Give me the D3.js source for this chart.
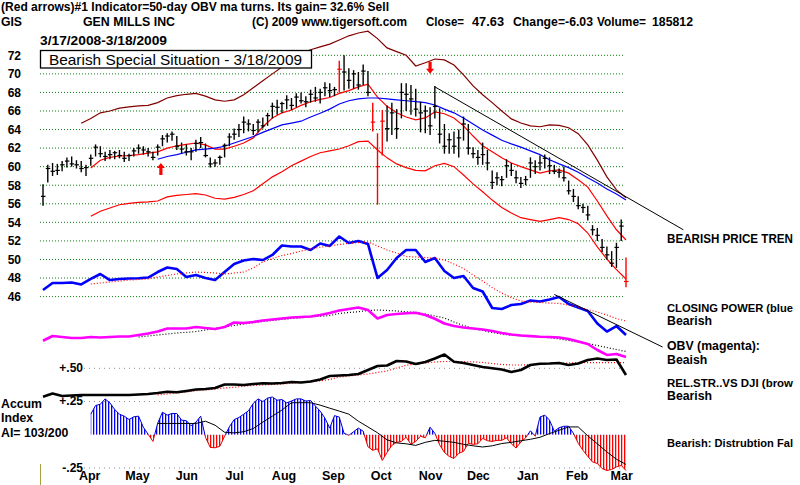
<!DOCTYPE html>
<html>
<head>
<meta charset="utf-8">
<script src="https://cdn.jsdelivr.net/npm/d3@7"></script>
<style>
  body { margin: 0; background: #fff; }
  text { font-family: "Liberation Sans", Arial, sans-serif; font-weight: bold; }
</style>
</head>
<body>
<div id="chart"></div>
<script>
// ---- data ----
const parse = d3.timeParse("%Y-%m-%d");
const startDate = parse("2008-03-17"), endDate = parse("2009-03-18");
const barStep = 3, lineStep = 6;   // calendar days between samples

const barHigh = [58.1,60.2,60.4,60.3,60.6,61.0,61.1,60.7,60.6,60.2, 61.3,62.4,62.2,61.6,61.8,61.7,61.8,61.6,61.4,62.0,
  62.4,62.2,62.0,61.6,62.4,63.4,63.6,63.8,63.3,62.6, 62.4,62.0,62.9,63.2,62.5,61.0,60.8,61.2,62.5,63.6,
  64.1,64.6,65.4,65.1,64.6,65.1,65.3,65.8,66.9,67.2, 67.0,67.7,67.4,67.9,68.0,67.6,68.3,68.6,68.4,69.1,
  69.0,68.6,71.4,72.0,70.6,70.4,70.2,71.0,70.3,66.9, 63.6,66.1,66.6,66.9,66.2,69.0,69.0,68.8,68.4,67.0,
  66.6,66.4,68.7,66.3,64.6,63.6,63.8,64.0,65.4,64.6, 62.1,61.8,62.6,61.8,59.6,59.4,59.0,60.8,60.4,59.6,
  58.9,59.0,61.0,60.7,61.2,61.3,61.0,60.2,59.8,60.0, 58.5,57.6,56.8,56.0,55.8,53.7,53.4,52.2,51.4,50.9,
  51.8,54.3,50.2];
const barLow = [55.8,58.3,59.0,59.1,59.5,59.9,60.0,59.8,59.4,59.0, 60.1,61.1,61.0,60.6,60.8,60.8,60.9,60.5,60.6,61.1,
  61.4,61.3,61.1,60.7,61.2,62.2,62.6,62.8,61.8,61.4, 61.2,60.7,61.6,62.0,61.0,59.9,60.0,60.2,61.0,62.2,
  62.9,63.2,63.6,63.8,63.4,63.7,64.1,64.4,65.2,65.6, 65.8,66.2,66.1,66.4,66.8,66.4,66.9,67.0,66.8,67.6,
  67.5,67.6,68.0,68.2,68.4,68.4,68.3,68.8,67.6,63.8, 55.9,61.2,62.7,63.4,63.0,65.2,66.0,65.6,65.4,63.7,
  63.6,63.4,65.2,62.5,61.4,61.4,61.4,61.0,62.8,61.3, 60.9,60.2,60.2,59.6,57.6,58.0,57.9,58.8,59.0,58.2,
  57.7,58.0,58.8,59.2,59.6,59.8,59.2,59.2,58.8,58.4, 57.0,56.2,55.4,55.0,54.2,52.6,52.0,50.8,50.0,49.2,
  49.1,52.0,47.0];
const barClose = [56.8,59.8,59.5,59.6,60.2,60.6,60.3,60.2,59.8,59.9, 60.9,62.1,61.4,61.1,61.3,61.5,61.2,60.9,61.2,61.7,
  62.0,61.8,61.6,61.0,62.1,63.0,63.3,63.5,62.2,61.9, 61.6,61.6,62.5,62.6,61.2,60.3,60.4,61.0,62.3,63.2,
  63.5,64.0,64.8,64.6,63.9,64.8,64.4,65.5,66.5,66.4, 66.8,67.2,66.6,67.5,67.1,67.0,67.8,67.4,68.0,68.5,
  68.2,68.3,70.5,70.2,69.3,70.0,68.8,70.3,68.0,64.8, 60.0,64.9,64.1,65.8,64.1,68.0,67.8,67.3,66.2,65.8,
  66.0,64.4,66.5,63.5,62.2,62.9,62.2,63.1,64.6,62.0, 61.4,61.0,61.3,60.4,58.3,58.8,58.6,60.1,59.6,58.8,
  58.2,58.6,60.4,60.0,60.4,60.9,60.1,59.5,59.4,58.8, 57.4,56.8,55.8,55.6,54.8,53.2,52.6,51.3,50.5,49.6,
  51.3,53.6,47.63];
const redBars = [62, 69, 70, 71, 122];

// bands and moving averages, one value every 6 days, first sample index given
const upperBandStart = 4;
const upperBand = [64.67,65.2,65.8,66.0,66.3,66.45,66.55,66.6,66.9,67.4, 67.65,67.8,67.9,67.6,67.2,67.05,67.2,67.75,68.5,69.25,
  70.0,70.75,71.5,72.25,72.6,72.9,73.2,73.65,74.1,74.4, 74.6,73.8,72.8,72.4,72.0,70.85,71.2,71.6,71.5,70.95,
  69.9,68.7,67.75,66.9,66.0,65.15,64.7,64.4,64.3,64.5, 64.45,64.2,63.55,62.35,60.7,58.9,57.5,56.65];
const lowerBandStart = 5;
const lowerBand = [54.65,55.2,55.55,55.9,56.05,56.15,56.2,56.3,56.75,56.9, 57.0,57.1,56.95,56.6,56.5,56.7,57.0,57.4,58.15,58.9,
  59.45,60.1,60.6,61.1,61.5,61.7,61.9,62.25,62.7,62.75, 61.8,60.95,60.3,59.9,59.6,59.55,60.1,60.35,60.0,59.1,
  58.15,57.3,56.4,55.6,55.0,54.5,54.3,54.1,54.3,54.5, 54.3,53.85,52.85,51.35,50.05,48.9,47.9];
const ma21Start = 5;
const ma21 = [59.85,60.7,61.0,61.15,61.2,61.3,61.45,61.6,62.0,62.25, 62.4,62.55,62.35,61.9,61.9,62.2,62.55,63.1,64.3,65.25,
  65.8,66.1,66.6,67.0,67.25,67.45,67.9,68.2,68.6,68.9, 67.5,66.5,65.8,65.35,65.05,65.25,65.9,65.7,65.25,64.4,
  63.3,62.25,61.6,60.95,60.4,60.0,59.65,59.3,59.55,59.65, 59.3,58.6,57.8,56.3,54.7,53.2,52.1];
const ma50Start = 12;
const ma50 = [60.8,61.1,61.3,61.55,61.8,61.9,62.0,62.2,62.55,62.9, 63.25,63.7,64.1,64.5,64.7,64.9,65.35,65.75,66.2,66.75,
  67.1,67.3,67.4,67.4,67.3,67.2,67.1,67.0,66.9,66.65, 66.2,65.8,65.25,64.6,63.95,63.4,62.85,62.45,62.1,61.7,
  61.3,60.75,60.3,59.9,59.4,58.8,58.25,57.6,57.05,56.4];

// indicators (scaled 0-100 within their own strip)
const closingPower = [45.5,51.8,51.8,52.3,50.5,55.5,60,54.5,55.5,55.9, 56.1,56.8,61.8,65.9,64.5,57.3,59.1,56.4,54.5,61.8,
  69.1,72.3,73.6,72.7,77.3,85.9,85,85,81.8,87.7, 85.5,94.1,88.2,90,87.3,56.4,63.6,74.5,81.8,81.8,
  70.9,74.5,62.7,56.4,58.2,47.3,44.1,29.1,28.2,31.8, 32.7,35.9,35,36.8,39.1,32.7,29.5,26.4,15,7.7, 12.7,4.5];
const cpMaStart = 5;
const cpMa = [50.9,51.8,52.7,53.6,54.5,55,55.5,57.3,58.6,60, 60.9,61.8,61.4,60.9,60,60.9,61.8,65.5,70.9,74.1,
  76.8,78.6,80.9,82.7,84.3,85.5,86.8,87.9,88.6,89.1, 85.5,81.8,79.1,75.9,75.5,75,74.5,72.7,69.1,65,
  59.1,53.6,47.7,42.7,38.6,35.5,34.5,34.1,33.6,33.2, 31.8,30,27.7,25.5,22.7,19.5,17.3];
const obv = [36.6,42.5,41.3,40,40,41.3,40.6,41.3,41.9,41.9, 43.8,45.6,48.1,51.9,51.9,51.9,53.8,52.5,51.3,53.8,
  59.4,58.8,60,61.9,63.1,64.4,65.6,66.3,66.9,68.8, 71.3,74.4,76.3,78.1,75,64.4,68.8,70,70.9,71.6,
  68.8,64.1,58.1,55,53.1,51.9,50.6,48.8,46.3,44.4, 43.1,42.3,41.6,41.3,40.6,38.8,35.6,32.5,25,18.8, 20,16.3];
const obvMaStart = 10;
const obvMa = [41.3,42.5,43.8,45,46.3,47.1,48.1,50,51.9,53.8, 55.6,57.5,59.1,60.6,61.9,63.1,64.4,65.3,66.3,67.1,
  68.1,70.6,71.9,72.9,74.4,75,74.4,73.8,72.9,71.9, 70,67.5,65,60,55.6,52.1,49.4,46.9,45,43.4,
  42.8,42.3,41.6,40.3,38.8,36.9,35,33.1,30.6,28.1, 25.6,23.1];
const relStr = [6.6,13,8,9,10,10,10,10,10,10, 11,12,14,16.6,15.4,18,21,22,24,31,
  31,30,32,33.4,33,34,36,35,37,41, 48,49,50,52,60,68,69,78,77,72,
  76,83,91,76.6,74,70,66,63.4,61,56, 60,70,72.6,73,74,70,73,80,83,80, 81,50];
const rsMaStart = 12;
const rsMa = [10,12,14,16,18.6,20,22,24,25.4,27.4, 29,30,31,32,33.6,35,36.4,38.4,41,46,
  48,50,52,55,58,64,69.6,72,74,76, 77,77,76.6,76.4,75,73,71,70,70,71,
  72,72.6,73.4,74,74.4,74.6,74.6,74.6,74.6,74.6];

// Accumulation Index, every 3 days from bar 10
const aiStart = 10;
const accumIndex = [0.155,0.22,0.23,0.27,0.24,0.19,0.155,0.14,0.115,0.135,
  0.14,0.057,0.004,-0.05,0.087,0.17,0.148,0.16,0.16,0.11,
  0.106,0.068,0.095,0.14,-0.019,-0.095,-0.098,-0.087,-0.011,0.06,
  0.114,0.13,0.155,0.18,0.236,0.27,0.25,0.276,0.284,0.26,
  0.265,0.24,0.254,0.27,0.27,0.254,0.258,0.216,0.178,0.125,
  0.05,0.144,0.133,0.011,-0.004,0.023,0.05,0.027,-0.09,-0.117,
  -0.106,-0.193,-0.133,-0.08,-0.057,-0.05,-0.019,-0.072,-0.05,-0.011,
  -0.023,0.057,0.011,-0.076,-0.133,-0.163,-0.178,-0.14,-0.125,-0.064,
  -0.072,-0.068,-0.027,-0.045,-0.05,-0.042,-0.042,-0.023,-0.068,-0.1,
  -0.055,-0.023,0.03,-0.011,0.133,0.148,0.11,0.027,0.053,0.064,
  0.064,0.011,-0.064,-0.117,-0.163,-0.205,-0.216,-0.254,-0.269,-0.261,
  -0.242,-0.231,-0.269];
const aiMaStart = 12;
const aiMa = [0.085,0.085,0.085,0.085,0.085,0.102,0.072,0.019,0.014,0.023,
  0.047,0.095,0.14,0.186,0.241,0.241,0.241,0.223,0.2,0.178,
  0.155,0.102,0.059,0.015,-0.038,-0.061,-0.068,-0.08,-0.057,-0.042,
  -0.049,-0.057,-0.072,-0.083,-0.092,-0.083,-0.066,-0.057,-0.045,-0.034,
  -0.019,0.009,0.034,0.059,0.059,-0.008,-0.068,-0.129,-0.184,-0.223];

// signals and trendlines
const signalDates = ["2008-05-30", "2008-11-15"];
const signalPrices = [60.4, 70.0];
const signalDirs = ["up", "down"];
const priceTrendDates = ["2008-11-18", "2009-04-23"];
const priceTrendValues = [68.6, 53.2];
const cpTrendDates = ["2009-02-01", "2009-04-10"];
const cpTrendValues = [41.4, -6.4];

// ticks and labels
const priceTicks = d3.range(46, 73, 2);
const monthTicks = ["2008-04-15","2008-05-15","2008-06-15","2008-07-15","2008-08-15","2008-09-15",
  "2008-10-15","2008-11-15","2008-12-15","2009-01-15","2009-02-15","2009-03-15"];
const aiTicks = [0.5, 0.25, -0.25];
const aiTickLabels = ["+.50", "+.25", "-.25"];
const headline = "(Red arrows)#1 Indicator=50-day OBV ma turns. Its gain= 32.6% Sell";
const ticker = "GIS", company = "GEN MILLS INC", copyright = "(C) 2009 www.tigersoft.com";
const quote = ["Close=", "47.63", "Change=-6.03", "Volume=", "185812"];
const dateRange = "3/17/2008-3/18/2009";
const boxTitle = "Bearish Special Situation - 3/18/2009";
// the notes run into the right edge in the original, so they end where it cuts them
const sideNotes = ["BEARISH PRICE TREN", "CLOSING POWER (blue", "Bearish", "OBV (magenta):", "Beaish",
  "REL.STR..VS DJI (brow", "Bearish", "Bearish: Distrubtion Fal"];
const aiNotes = ["Accum", "Index", "AI= 103/200"];

// ---- chart ----
const W = 800, H = 485;
const svg = d3.select("#chart").append("svg")
    .attr("width", W).attr("height", H)
    .attr("viewBox", `0 0 ${W} ${H}`);

const x = d3.scaleTime().domain([startDate, endDate]).range([43, 626]);
const y = d3.scaleLinear().domain([46, 72]).range([296.6, 55.3]);
const cpY = d3.scaleLinear().domain([0, 100]).range([340, 230]);
const obvY = d3.scaleLinear().domain([0, 100]).range([370, 290]);
const rsY = d3.scaleLinear().domain([0, 100]).range([400, 350]);
const aiY = d3.scaleLinear().domain([-0.25, 0.5]).range([468, 368.3]);

const sampled = (vals, start, step) =>
    vals.map((v, k) => ({ date: d3.timeDay.offset(startDate, (start + k) * step), v }));
const lineFor = sc => d3.line().x(d => x(d.date)).y(d => sc(d.v));

// price grid
svg.append("g").selectAll("line").data(priceTicks).join("line")
    .attr("x1", 40).attr("x2", 624)
    .attr("y1", d => y(d)).attr("y2", d => y(d))
    .attr("stroke", "#108010").attr("stroke-dasharray", "1,2");

// price axis labels
svg.append("g")
    .attr("transform", "translate(21,0)")
    .call(d3.axisLeft(y).tickValues(priceTicks).tickSize(0).tickPadding(0))
    .call(g => g.select(".domain").remove())
    .call(g => g.selectAll("text").attr("font-size", 12).attr("fill", "#000")
        .style("font-family", "'Liberation Sans', Arial, sans-serif").style("font-weight", "bold"));

// bands & moving averages
const priceLines = [
    [upperBand, upperBandStart, "#800000"],
    [lowerBand, lowerBandStart, "#ff0000"],
    [ma21, ma21Start, "#ff0000"],
    [ma50, ma50Start, "#0000ff"]
];
priceLines.forEach(([vals, start, col]) => {
    svg.append("path").datum(sampled(vals, start, lineStep))
        .attr("fill", "none").attr("stroke", col).attr("stroke-width", 1.2)
        .attr("d", lineFor(y));
});

// price bars
const bars = barHigh.map((h, i) => ({
    date: d3.timeDay.offset(startDate, i * barStep), hi: h, lo: barLow[i], cl: barClose[i],
    red: redBars.includes(i)
}));
const barG = svg.append("g").attr("stroke-width", 1.4);
barG.selectAll(".hl").data(bars).join("line")
    .attr("x1", d => x(d.date)).attr("x2", d => x(d.date))
    .attr("y1", d => y(d.hi)).attr("y2", d => y(d.lo))
    .attr("stroke", d => d.red ? "#ff0000" : "#000");
barG.selectAll(".cl").data(bars).join("line")
    .attr("x1", d => x(d.date) - 2).attr("x2", d => x(d.date) + 2.5)
    .attr("y1", d => y(d.cl)).attr("y2", d => y(d.cl))
    .attr("stroke", d => d.red ? "#ff0000" : "#000").attr("stroke-width", 1.2);

// red signal arrows
signalDates.forEach((ds, k) => {
    const cx = x(parse(ds)), ty = y(signalPrices[k]), s = signalDirs[k] === "up" ? 1 : -1;
    const pts = [[0, 0], [4, 5], [1.6, 5], [1.6, 12], [-1.6, 12], [-1.6, 5], [-4, 5]]
        .map(([dx, dy]) => [cx + dx, ty + s * dy]);
    svg.append("path").attr("d", "M" + pts.join("L") + "Z").attr("fill", "#ff0000");
});

// price trendline
svg.append("line")
    .attr("x1", x(parse(priceTrendDates[0]))).attr("y1", y(priceTrendValues[0]))
    .attr("x2", x(parse(priceTrendDates[1]))).attr("y2", y(priceTrendValues[1]))
    .attr("stroke", "#000").attr("stroke-width", 1);

// AI reference lines
svg.append("g").selectAll("line").data(aiTicks).join("line")
    .attr("x1", 84).attr("x2", 624)
    .attr("y1", d => aiY(d)).attr("y2", d => aiY(d))
    .attr("stroke", "#8a8a9a").attr("stroke-dasharray", "1,4");
svg.append("g")
    .attr("transform", "translate(83,0)")
    .call(d3.axisLeft(aiY).tickValues(aiTicks).tickSize(0).tickPadding(0)
        .tickFormat((d, i) => aiTickLabels[i]))
    .call(g => g.select(".domain").remove())
    .call(g => g.selectAll("text").attr("font-size", 12).attr("fill", "#000").attr("dy", "0.25em")
        .style("font-family", "'Liberation Sans', Arial, sans-serif").style("font-weight", "bold"));

// indicator lines with their averages
const indicators = [
    [closingPower, 0, cpY, "#0000ff", 2.6, null],
    [cpMa, cpMaStart, cpY, "#ff0000", 1.2, "1,2"],
    [obvMa, obvMaStart, obvY, "#000", 1.2, "1,2"],
    [obv, 0, obvY, "#ff00ff", 2.6, null],
    [rsMa, rsMaStart, rsY, "#ff0000", 1.2, "1,2"],
    [relStr, 0, rsY, "#000", 2.6, null]
];
indicators.forEach(([vals, start, sc, col, w, dash]) => {
    svg.append("path").datum(sampled(vals, start, lineStep))
        .attr("fill", "none").attr("stroke", col).attr("stroke-width", w)
        .attr("stroke-dasharray", dash).attr("stroke-linejoin", "round")
        .attr("d", lineFor(sc));
});

// closing power trendline
svg.append("line")
    .attr("x1", x(parse(cpTrendDates[0]))).attr("y1", cpY(cpTrendValues[0]))
    .attr("x2", x(parse(cpTrendDates[1]))).attr("y2", cpY(cpTrendValues[1]))
    .attr("stroke", "#000").attr("stroke-width", 1);

// Accumulation Index histogram (striped fill, blue above zero, red below)
const defs = svg.append("defs");
[["aiBlue", "#0000ff"], ["aiRed", "#ff0000"]].forEach(([id, col]) => {
    const p = defs.append("pattern").attr("id", id).attr("patternUnits", "userSpaceOnUse")
        .attr("width", 3).attr("height", 10);
    p.append("rect").attr("width", 1.3).attr("height", 10).attr("fill", col);
});
const zeroY = aiY(0);
defs.append("clipPath").attr("id", "aiPos").append("rect")
    .attr("x", 0).attr("y", 0).attr("width", W).attr("height", zeroY);
defs.append("clipPath").attr("id", "aiNeg").append("rect")
    .attr("x", 0).attr("y", zeroY).attr("width", W).attr("height", H - zeroY);

const aiData = sampled(accumIndex, aiStart, barStep);
const aiArea = d3.area().x(d => x(d.date)).y0(zeroY).y1(d => aiY(d.v));
const aiLine = lineFor(aiY);
[["aiPos", "aiBlue", "#0000cc"], ["aiNeg", "aiRed", "#dd0000"]].forEach(([clip, pat, col]) => {
    const g = svg.append("g").attr("clip-path", `url(#${clip})`);
    g.append("path").datum(aiData).attr("fill", `url(#${pat})`).attr("d", aiArea);
    g.append("path").datum(aiData).attr("fill", "none").attr("stroke", col)
        .attr("stroke-width", 1).attr("d", aiLine);
});
svg.append("path").datum(sampled(aiMa, aiMaStart, lineStep))
    .attr("fill", "none").attr("stroke", "#000").attr("stroke-width", 1)
    .attr("d", lineFor(aiY));

// month axis
svg.append("g")
    .attr("transform", "translate(0,480)")
    .call(d3.axisBottom(x).tickValues(monthTicks.map(parse)).tickSize(0).tickPadding(0)
        .tickFormat(d3.timeFormat("%b")))
    .call(g => g.select(".domain").remove())
    .call(g => g.selectAll("text").attr("font-size", 12.5).attr("fill", "#000").attr("dy", 0)
        .style("font-family", "'Liberation Sans', Arial, sans-serif").style("font-weight", "bold"));

// small olive marker at the bottom-left
svg.append("line").attr("x1", 40.5).attr("x2", 40.5).attr("y1", 464).attr("y2", 485)
    .attr("stroke", "#a8a040").attr("stroke-width", 1);

// header texts
const txt = (s, xx, yy, size, len, weight) => svg.append("text")
    .attr("x", xx).attr("y", yy).attr("font-size", size)
    .attr("textLength", len).attr("lengthAdjust", "spacingAndGlyphs")
    .style("font-weight", weight || "bold").text(s);
txt(headline, 1, 11, 12, 388);
txt(ticker, 1, 26, 12, 21);
txt(company, 83, 26, 12, 92);
txt(copyright, 252, 26, 12, 155);
txt(quote[0], 426, 26, 12, 38);
txt(quote[1], 472, 26, 12, 32);
txt(quote[2], 513, 26, 12, 80);
txt(quote[3], 597, 26, 12, 49);
txt(quote[4], 652, 26, 12, 41);
txt(dateRange, 40, 45, 12, 127);

// title box
svg.append("rect").attr("x", 40.5).attr("y", 50.5).attr("width", 271).attr("height", 17.5)
    .attr("fill", "#fff").attr("stroke", "#000").attr("stroke-width", 1.3);
txt(boxTitle, 49, 64.5, 15, 253, "normal");

// right-hand notes; the long ones are squeezed so they end at the edge like the original
const noteY = [243, 312, 325, 350, 364, 387, 400, 447];
const noteSize = [12.3, 11, 12.3, 12.3, 12.3, 10.8, 12.3, 10.2];
const noteLen = [126, 126, 0, 0, 0, 126, 0, 126];
sideNotes.forEach((s, k) => {
    const t = svg.append("text").attr("x", 667).attr("y", noteY[k]).attr("font-size", noteSize[k]).text(s);
    if (noteLen[k]) t.attr("textLength", noteLen[k]).attr("lengthAdjust", "spacingAndGlyphs");
});

// left notes for the Accumulation Index
[408, 422, 436.5].forEach((yy, k) => {
    svg.append("text").attr("x", 1).attr("y", yy).attr("font-size", 12.3).text(aiNotes[k]);
});
</script>
</body>
</html>
